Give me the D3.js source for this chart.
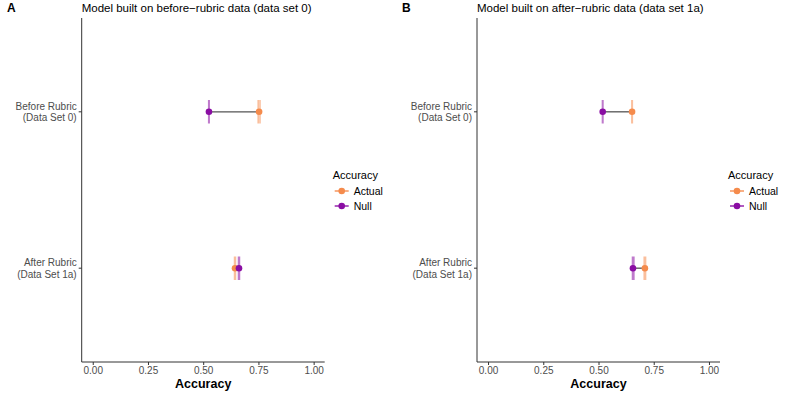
<!DOCTYPE html>
<html>
<head>
<meta charset="utf-8">
<script src="https://cdn.jsdelivr.net/npm/d3@7"></script>
<style>
  body { margin: 0; background: #fff; }
  text { font-family: "Liberation Sans", Arial, sans-serif; }
</style>
</head>
<body>
<svg id="chart" width="789" height="395"></svg>
<script>
// data
var categories = ["Before Rubric|(Data Set 0)", "After Rubric|(Data Set 1a)"];
var panelTags = ["A", "B"];
var panelTitles = ["Model built on before\u2212rubric data (data set 0)",
                   "Model built on after\u2212rubric data (data set 1a)"];
var xTicks = [0, 0.25, 0.5, 0.75, 1];
var seriesNames = ["Actual", "Null"];
var seriesColors = ["#F58B4C", "#8A0DA3"];

// per panel, per category: estimate, lower, upper
var actualA = [[0.753, 0.749, 0.757], [0.644, 0.642, 0.646]];
var nullA   = [[0.526, 0.525, 0.527], [0.662, 0.660, 0.664]];
var actualB = [[0.652, 0.651, 0.653], [0.710, 0.707, 0.713]];
var nullB   = [[0.519, 0.518, 0.520], [0.656, 0.654, 0.660]];

var panels = [
  {actual: actualA, nul: nullA},
  {actual: actualB, nul: nullB}
];

var svg = d3.select("#chart");
var plotW = 243, plotTop = 18, plotBottom = 362;
var lefts = [81.7, 477];

panels.forEach(function(p, k) {
  var x0 = lefts[k];
  var g = svg.append("g").attr("transform", "translate(" + x0 + ",0)");

  var x = d3.scaleLinear().domain([-0.05, 1.05]).range([0, plotW]);
  // discrete y: positions 1 (bottom) and 2 (top), expanded by 0.6
  var y = d3.scaleLinear().domain([0.4, 2.6]).range([plotBottom, plotTop]);
  var ypos = function(i) { return y(categories.length - i); };

  // tag and title
  svg.append("text")
    .attr("x", k === 0 ? 7 : 402).attr("y", 12)
    .style("font-size", "12px").style("font-weight", "bold")
    .text(panelTags[k]);
  g.append("text").attr("x", 0).attr("y", 12)
    .style("font-size", "11.5px").attr("fill", "#000")
    .text(panelTitles[k]);

  // axes
  var xa = g.append("g").attr("transform", "translate(0," + plotBottom + ")")
    .call(d3.axisBottom(x).tickValues(xTicks).tickFormat(d3.format(".2f")).tickSizeOuter(0).tickSize(3).tickPadding(2));
  xa.select(".domain").attr("stroke", "#333").attr("d", "M0,0H" + plotW);
  xa.selectAll(".tick line").attr("stroke", "#333");
  xa.selectAll(".tick text").attr("fill", "#4d4d4d").style("font-size", "10px");

  var ya = g.append("g");
  ya.append("line").attr("x1", 0).attr("x2", 0).attr("y1", plotTop).attr("y2", plotBottom)
    .attr("stroke", "#333");
  categories.forEach(function(c, i) {
    var yy = ypos(i);
    ya.append("line").attr("x1", -3).attr("x2", 0).attr("y1", yy).attr("y2", yy).attr("stroke", "#333");
    var parts = c.split("|");
    var t = ya.append("text").attr("x", -5).attr("y", yy)
      .attr("text-anchor", "end").attr("fill", "#4d4d4d").style("font-size", "10px");
    t.append("tspan").attr("x", -5).attr("dy", "-0.2em").text(parts[0]);
    t.append("tspan").attr("x", -5).attr("dy", "1.15em").text(parts[1]);
  });

  g.append("text").attr("x", plotW / 2).attr("y", 388)
    .attr("text-anchor", "middle").style("font-size", "12.5px").style("font-weight", "bold")
    .text("Accuracy");

  // connecting segments
  categories.forEach(function(c, i) {
    g.append("line")
      .attr("x1", x(p.nul[i][0])).attr("x2", x(p.actual[i][0]))
      .attr("y1", ypos(i)).attr("y2", ypos(i))
      .attr("stroke", "#555").attr("stroke-width", 1.3);
  });

  // error bars + points
  [p.actual, p.nul].forEach(function(s, si) {
    var col = seriesColors[si];
    s.forEach(function(d, i) {
      var yy = ypos(i), h = 0.075 * 156;
      var eb = g.append("g").attr("stroke", col).attr("stroke-width", 1.6)
        .attr("stroke-opacity", 0.55).attr("fill", "none");
      eb.append("path").attr("d",
        "M" + x(d[1]) + "," + (yy - h) + "V" + (yy + h) +
        "M" + x(d[2]) + "," + (yy - h) + "V" + (yy + h) +
        "M" + x(d[1]) + "," + yy + "H" + x(d[2]));
      g.append("circle").attr("cx", x(d[0])).attr("cy", yy).attr("r", 3.3).attr("fill", col);
    });
  });

  // legend
  var lg = svg.append("g").attr("transform", "translate(" + (x0 + plotW + 8) + ",0)");
  lg.append("text").attr("x", 0).attr("y", 179).style("font-size", "11px").text("Accuracy");
  seriesNames.forEach(function(n, i) {
    var yy = 191 + i * 15;
    lg.append("line").attr("x1", 2).attr("x2", 16).attr("y1", yy).attr("y2", yy)
      .attr("stroke", seriesColors[i]).attr("stroke-width", 1.5).attr("stroke-opacity", 0.9);
    lg.append("circle").attr("cx", 9).attr("cy", yy).attr("r", 3.3).attr("fill", seriesColors[i]);
    lg.append("text").attr("x", 21).attr("y", yy + 3.5).style("font-size", "10.5px").text(n);
  });
});
</script>
</body>
</html>
